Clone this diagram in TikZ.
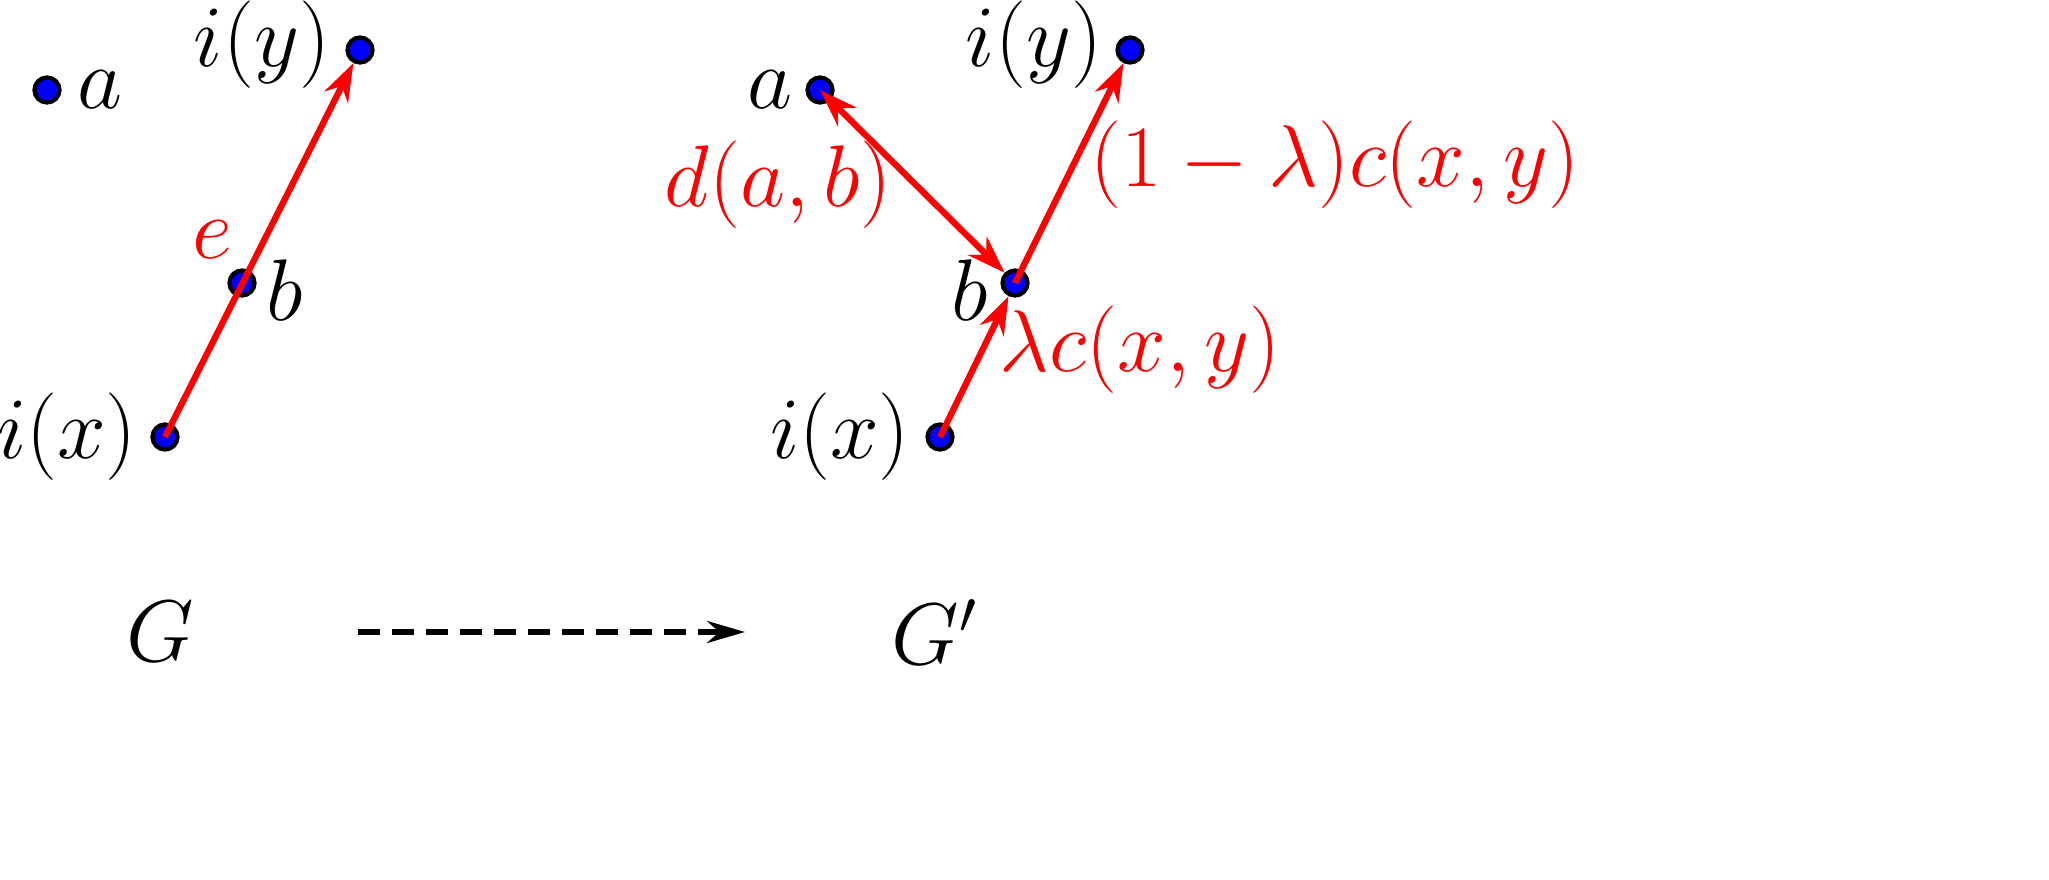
\documentclass[tikz,border=0pt]{standalone}
\usetikzlibrary{arrows.meta}
\begin{document}
\begin{tikzpicture}[x=0.01cm,y=-0.01cm,
  pt/.style={circle,fill=blue,draw=black,line width=1.2pt,minimum size=0.25cm,inner sep=0pt},
  lbl/.style={font=\fontsize{24.5}{30}\selectfont},
  rl/.style={lbl,text=red},
  ra/.style={red,line width=1.8pt,-{Stealth[length=0.38cm,width=0.26cm]}}]
\useasboundingbox (0,0) rectangle (2049,879);
\node[pt] (a1) at (47,90) {};
\node[pt] (y1) at (360,50) {};
\node[pt] (b1) at (242,283) {};
\node[pt] (x1) at (165,437) {};
\node[pt] (a2) at (820,90) {};
\node[pt] (y2) at (1130,50) {};
\node[pt] (b2) at (1015,283) {};
\node[pt] (x2) at (940,437) {};
\node[lbl] at (100,90) {$a$};
\node[lbl] at (262,45) {$i(y)$};
\node[lbl] at (285,290) {$b$};
\node[lbl] at (67,437) {$i(x)$};
\node[lbl] at (770,90) {$a$};
\node[lbl] at (1034,45) {$i(y)$};
\node[lbl] at (970,290) {$b$};
\node[lbl] at (840,437) {$i(x)$};
\draw[ra] (x1.center) -- (y1);
\draw[ra] (x2.center) -- (b2);
\draw[ra] (b2.center) -- (y2);
\draw[red,line width=1.8pt,{Stealth[length=0.38cm,width=0.26cm]}-{Stealth[length=0.38cm,width=0.26cm]}] (a2.center) -- (b2);
\node[rl] at (212,240) {$e$};
\node[rl] at (778,185) {$d(a,b)$};
\node[rl] at (1335,165) {$(1-\lambda)c(x,y)$};
\node[rl] at (1140,350) {$\lambda c(x,y)$};
\node[lbl] (G) at (160,632) {$G$};
\node[lbl] (G2) at (935,632) {$G'$};
\coordinate (s) at (358,632);
\coordinate (t) at (745,632);
\draw[line width=1.5pt,dash pattern=on 0.22cm off 0.12cm,-{Stealth[length=0.38cm,width=0.22cm]}] (s) -- (t);
\end{tikzpicture}
\end{document}
